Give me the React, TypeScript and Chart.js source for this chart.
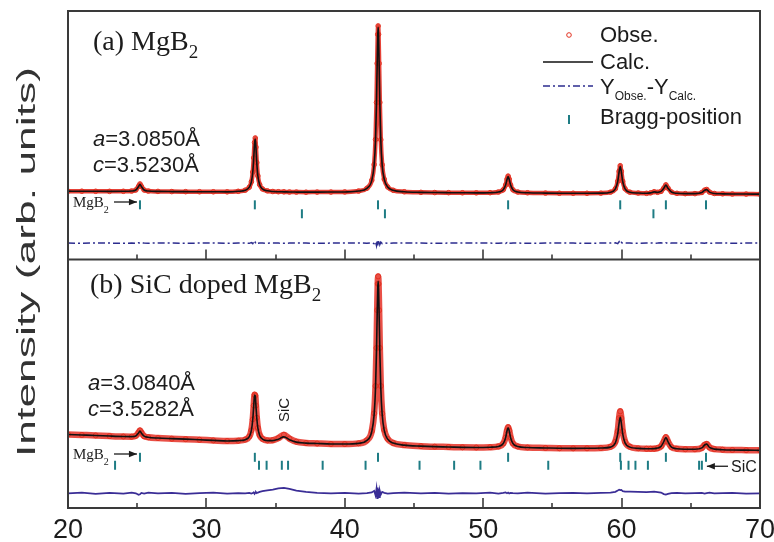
import React, { useEffect, useRef } from 'react';
import { Chart, registerables } from 'chart.js';

Chart.register(...registerables);

// 2θ grid (degrees) shared by all profile series
const twoTheta = [
  20, 21, 22, 23, 24, 24.6, 24.9, 25.1, 25.2, 25.3,
  25.5, 25.8, 26.5, 27.5, 28.5, 29.5, 30.5, 31.5, 32.3, 32.8,
  33.1, 33.25, 33.35, 33.42, 33.48, 33.53, 33.58, 33.64, 33.72, 33.85,
  34.05, 34.4, 34.8, 35.2, 35.6, 36.0, 36.5, 37.2, 38, 39,
  40, 41, 41.6, 41.95, 42.12, 42.22, 42.29, 42.34, 42.38, 42.41,
  42.44, 42.48, 42.53, 42.6, 42.7, 42.85, 43.1, 43.5, 44.3, 45.5,
  46.5, 47.5, 48.5, 49.5, 50.5, 51.1, 51.45, 51.62, 51.72, 51.8,
  51.88, 51.98, 52.15, 52.5, 53.2, 54.5, 55.5, 56.5, 57.5, 58.5,
  59.2, 59.55, 59.72, 59.82, 59.9, 59.98, 60.08, 60.25, 60.6, 61.2,
  61.8, 62.1, 62.35, 62.6, 62.85, 63.05, 63.2, 63.35, 63.6, 64.0,
  64.6, 65.3, 65.8, 66.0, 66.15, 66.35, 66.7, 67.3, 68, 69, 70,
];

// (a) MgB2 — observed, calculated, difference
const obsA = [
  27.5, 27.48, 27.45, 27.42, 27.45, 27.56, 27.98, 29.46, 30.4, 29.46,
  27.98, 27.55, 27.4, 27.33, 27.3, 27.27, 27.25, 27.22, 27.44, 27.89,
  29.11, 31.3, 35.2, 40.9, 47.1, 48.9, 45.2, 39.0, 33.65, 30.1,
  28.4, 27.63, 27.36, 27.27, 27.22, 27.16, 27.13, 27.1, 27.13, 27.14,
  27.19, 27.54, 28.67, 31.9, 38.2, 48.3, 63.2, 78.9, 90.6, 94.0,
  90.6, 78.9, 63.2, 48.2, 38.1, 32.3, 29.2, 27.85, 27.25, 27.02,
  26.94, 26.89, 26.85, 26.82, 26.89, 27.15, 28.06, 29.97, 32.33, 33.56,
  32.33, 29.97, 28.05, 27.14, 26.85, 26.72, 26.67, 26.66, 26.65, 26.71,
  27.11, 28.47, 31.48, 35.5, 37.74, 35.5, 31.47, 28.46, 27.09, 26.74,
  26.64, 26.83, 27.26, 27.05, 27.42, 28.75, 30.05, 28.75, 27.16, 26.64,
  26.5, 26.51, 26.97, 27.91, 28.18, 27.13, 26.57, 26.42, 26.36, 26.33, 26.3,
];
const calcA = [
  27.5, 27.47, 27.45, 27.43, 27.46, 27.56, 27.96, 29.4, 30.3, 29.4,
  27.96, 27.55, 27.4, 27.33, 27.3, 27.27, 27.25, 27.22, 27.44, 27.88,
  29.1, 31.25, 35.1, 40.8, 46.8, 48.5, 45.0, 38.9, 33.6, 30.1,
  28.4, 27.63, 27.36, 27.27, 27.22, 27.16, 27.13, 27.1, 27.13, 27.14,
  27.19, 27.54, 28.65, 31.85, 38.1, 48.1, 63.0, 78.6, 90.2, 93.4,
  90.2, 78.6, 63.0, 48.1, 38.0, 32.3, 29.2, 27.85, 27.25, 27.02,
  26.94, 26.89, 26.85, 26.82, 26.89, 27.15, 28.05, 29.95, 32.2, 33.35,
  32.2, 29.95, 28.05, 27.14, 26.85, 26.72, 26.67, 26.66, 26.65, 26.71,
  27.1, 28.45, 31.4, 35.3, 37.4, 35.3, 31.4, 28.45, 27.09, 26.74,
  26.64, 26.8, 27.2, 27.02, 27.4, 28.7, 29.95, 28.7, 27.15, 26.64,
  26.5, 26.51, 26.95, 27.85, 28.1, 27.1, 26.57, 26.42, 26.36, 26.33, 26.3,
];
const diffA = [
  6.6, 6.55, 6.65, 6.6, 6.55, 6.6, 6.5, 6.75, 6.5, 6.7,
  6.6, 6.55, 6.65, 6.6, 6.55, 6.6, 6.65, 6.55, 6.6, 6.6,
  6.5, 6.8, 6.4, 7.0, 6.3, 6.9, 6.4, 6.8, 6.5, 6.6,
  6.6, 6.55, 6.65, 6.6, 6.55, 6.6, 6.65, 6.6, 6.55, 6.6,
  6.6, 6.65, 6.55, 6.7, 6.4, 7.2, 5.6, 7.8, 5.4, 7.4,
  5.8, 7.6, 6.0, 7.0, 6.4, 6.7, 6.55, 6.6, 6.65, 6.6,
  6.55, 6.6, 6.65, 6.6, 6.6, 6.55, 6.7, 6.5, 6.8, 6.4,
  6.75, 6.5, 6.65, 6.6, 6.55, 6.6, 6.65, 6.6, 6.55, 6.6,
  6.6, 6.7, 6.4, 7.2, 6.3, 6.9, 6.5, 6.65, 6.6, 6.55,
  6.6, 6.65, 6.55, 6.6, 6.7, 6.5, 6.75, 6.45, 6.6, 6.6,
  6.55, 6.6, 6.65, 6.55, 6.7, 6.5, 6.6, 6.65, 6.55, 6.6, 6.6,
];

// (b) SiC doped MgB2 — observed, calculated, difference
const obsB = [
  29.6, 29.4, 29.2, 28.95, 28.75, 28.72, 29.06, 30.39, 31.22, 30.34,
  28.91, 28.47, 28.14, 27.9, 27.7, 27.45, 27.2, 26.95, 27.1, 27.51,
  28.79, 31.29, 35.68, 41.2, 45.6, 45.16, 41.21, 36.32, 32.24, 29.31,
  27.83, 27.21, 27.29, 28.12, 29.44, 27.95, 26.68, 26.17, 25.98, 25.77,
  25.73, 26.02, 27.25, 30.96, 38.1, 49.1, 64.4, 79.6, 90.2, 93.2,
  90.2, 79.6, 64.4, 49.1, 38.1, 31.4, 27.79, 26.15, 25.32, 24.89,
  24.68, 24.55, 24.4, 24.35, 24.46, 24.76, 25.98, 28.38, 31.14, 32.5,
  31.14, 28.38, 25.98, 24.76, 24.33, 24.17, 24.05, 24.0, 24.03, 24.12,
  24.64, 26.68, 30.92, 36.2, 38.9, 36.2, 30.92, 26.68, 24.64, 24.0,
  23.84, 23.86, 23.88, 24.11, 24.83, 26.76, 28.52, 26.76, 24.53, 23.84,
  23.65, 23.63, 24.2, 25.41, 25.76, 24.41, 23.7, 23.47, 23.35, 23.28, 23.2,
];
const calcB = [
  29.6, 29.4, 29.2, 28.95, 28.75, 28.72, 29.0, 30.2, 31.0, 30.2,
  28.9, 28.47, 28.14, 27.9, 27.7, 27.45, 27.2, 26.95, 27.1, 27.5,
  28.75, 31.2, 35.6, 41.1, 45.5, 45.1, 41.1, 36.2, 32.1, 29.2,
  27.75, 27.1, 27.1, 27.67, 28.64, 27.5, 26.52, 26.1, 25.95, 25.77,
  25.73, 26.02, 27.2, 30.8, 37.7, 48.4, 63.2, 78.0, 88.3, 91.2,
  88.3, 78.0, 63.2, 48.4, 37.7, 31.2, 27.7, 26.12, 25.3, 24.89,
  24.68, 24.55, 24.4, 24.35, 24.46, 24.75, 25.95, 28.3, 31.0, 32.3,
  31.0, 28.3, 25.95, 24.75, 24.33, 24.17, 24.05, 24.0, 24.03, 24.12,
  24.5, 26.22, 29.8, 34.2, 36.5, 34.2, 29.8, 26.22, 24.5, 23.98,
  23.84, 23.86, 23.88, 24.1, 24.8, 26.7, 28.4, 26.7, 24.5, 23.84,
  23.65, 23.63, 24.18, 25.35, 25.7, 24.4, 23.7, 23.47, 23.35, 23.28, 23.2,
];
const diffB = [
  5.9, 6.2, 5.7, 6.1, 5.8, 6.2, 5.9, 5.3, 5.5, 6.1,
  5.8, 6.2, 5.9, 6.1, 5.7, 6.0, 6.2, 5.8, 6.0, 5.9,
  6.1, 5.8, 6.0, 6.3, 5.7, 6.1, 6.4, 6.0, 6.2, 6.5,
  6.8, 7.1, 7.4, 7.9, 8.1, 7.7, 7.0, 6.5, 6.1, 5.9,
  6.1, 5.8, 6.0, 6.3, 6.9, 5.1, 7.8, 4.0, 8.2, 5.2,
  7.6, 4.4, 6.9, 5.4, 6.5, 6.1, 5.8, 6.0, 6.2, 5.9,
  6.1, 5.8, 6.0, 5.9, 6.2, 5.8, 6.1, 6.3, 5.9, 6.2,
  5.8, 6.1, 6.0, 5.9, 6.2, 5.8, 6.0, 6.1, 5.9, 6.1,
  6.2, 6.5, 7.0, 7.4, 7.2, 7.3, 6.8, 6.6, 6.6, 6.5,
  6.4, 6.5, 6.6, 6.4, 6.2, 5.6, 5.4, 5.7, 6.0, 6.1,
  5.9, 6.0, 6.1, 5.8, 6.0, 6.2, 5.9, 6.0, 6.1, 5.8, 5.9,
];

// Bragg reflection positions (2θ)
const braggMgB2 = [25.2, 33.5, 42.4, 51.8, 59.9, 63.2, 66.1];
const braggMgO = [36.9, 42.9, 62.3];
const braggSiC = [23.4, 33.8, 34.35, 35.45, 35.9, 38.4, 41.5, 45.4, 47.9, 49.8, 54.7, 59.95, 60.5, 61.0, 61.9, 65.6, 65.8];

// axis ticks
const xMajorTicks = [20, 30, 40, 50, 60, 70];
const xMinorTicks = [25, 35, 45, 55, 65];

// vertical stacking of the two panels on one intensity scale
const PANEL_A_OFFSET = 100;
const ROW_A_MGB2 = 122;
const ROW_A_MGO = 118.4;
const ROW_B_MGB2 = 20.4;
const ROW_B_SIC = 17.2;

const RED = '#e2301f';
const TEAL = '#1e7c84';
const NAVY_A = '#2c2c8e';
const NAVY_B = '#3a2d96';
const SANS = '"Liberation Sans", Arial, sans-serif';
const SERIF = '"Liberation Serif", "Times New Roman", serif';

const profile = (ys: number[], off = 0) => twoTheta.map((x, i) => ({ x, y: ys[i] + off }));
const tickRow = (xs: number[], level: number) => xs.map((x) => ({ x, y: level }));

function rich(ctx: CanvasRenderingContext2D, x: number, y: number, parts: { t: string; font: string; dy?: number }[]) {
  let cx = x;
  for (const p of parts) {
    ctx.font = p.font;
    ctx.fillText(p.t, cx, y + (p.dy || 0));
    cx += ctx.measureText(p.t).width;
  }
  return cx;
}

function arrow(ctx: CanvasRenderingContext2D, x1: number, y: number, x2: number) {
  ctx.beginPath();
  ctx.moveTo(x1, y);
  ctx.lineTo(x2, y);
  ctx.stroke();
  const d = Math.sign(x2 - x1);
  ctx.beginPath();
  ctx.moveTo(x2, y);
  ctx.lineTo(x2 - d * 8, y - 3.2);
  ctx.lineTo(x2 - d * 8, y + 3.2);
  ctx.closePath();
  ctx.fill();
}

const framePlugin = {
  id: 'frame',
  afterDatasetsDraw(chart: any) {
    const { ctx, chartArea: ca, scales } = chart;
    const xs = scales.x;
    const yDiv = scales.y.getPixelForValue(PANEL_A_OFFSET);
    ctx.save();
    ctx.strokeStyle = '#3a3a3a';
    ctx.lineWidth = 2;
    ctx.strokeRect(ca.left, ca.top, ca.right - ca.left, ca.bottom - ca.top);
    ctx.beginPath();
    ctx.moveTo(ca.left, yDiv);
    ctx.lineTo(ca.right, yDiv);
    ctx.stroke();
    ctx.lineWidth = 1.6;
    const drawTicks = (vals: number[], len: number) => {
      for (const v of vals) {
        const px = Math.round(xs.getPixelForValue(v));
        for (const base of [ca.bottom, yDiv]) {
          ctx.beginPath();
          ctx.moveTo(px, base);
          ctx.lineTo(px, base - len);
          ctx.stroke();
        }
      }
    };
    drawTicks(xMajorTicks, 10);
    drawTicks(xMinorTicks, 5);
    ctx.restore();
  },
};

const textPlugin = {
  id: 'texts',
  afterDraw(chart: any) {
    const { ctx, scales } = chart;
    const xs = scales.x;
    const ys = scales.y;
    ctx.save();
    ctx.fillStyle = '#1c1c1c';
    ctx.strokeStyle = '#1c1c1c';
    ctx.textBaseline = 'alphabetic';
    ctx.textAlign = 'left';

    // panel titles
    rich(ctx, 93, 50, [
      { t: '(a) MgB', font: `28px ${SERIF}` },
      { t: '2', font: `19px ${SERIF}`, dy: 8 },
    ]);
    rich(ctx, 90, 293, [
      { t: '(b) SiC doped MgB', font: `28px ${SERIF}` },
      { t: '2', font: `19px ${SERIF}`, dy: 8 },
    ]);

    // lattice parameters
    const lp = (x: number, y: number, sym: string, val: string) =>
      rich(ctx, x, y, [
        { t: sym, font: `italic 22px ${SANS}` },
        { t: val, font: `22px ${SANS}` },
      ]);
    lp(93, 146, 'a', '=3.0850Å');
    lp(93, 172, 'c', '=3.5230Å');
    lp(88, 390, 'a', '=3.0840Å');
    lp(88, 416, 'c', '=3.5282Å');

    // phase labels with arrows
    ctx.lineWidth = 1.3;
    const mgb2Label = (y: number) => {
      rich(ctx, 73, y, [
        { t: 'MgB', font: `15px ${SERIF}` },
        { t: '2', font: `10px ${SERIF}`, dy: 6 },
      ]);
      arrow(ctx, 114, y - 5, xs.getPixelForValue(braggMgB2[0]) - 3);
    };
    mgb2Label(207);
    mgb2Label(459);

    const yMgO = ys.getPixelForValue(ROW_A_MGO + PANEL_A_OFFSET);
    arrow(ctx, xs.getPixelForValue(braggMgB2[6]) - 4, yMgO, xs.getPixelForValue(braggMgO[2]) + 6);
    ctx.font = `17px ${SANS}`;
    ctx.fillText('MgO', 712, yMgO + 6);

    const ySiC = ys.getPixelForValue(ROW_B_SIC) + 1;
    arrow(ctx, 728, ySiC, xs.getPixelForValue(braggSiC[braggSiC.length - 1]) + 5);
    ctx.font = `16px ${SANS}`;
    ctx.fillText('SiC', 731, ySiC + 6);

    // rotated SiC label over the broad SiC hump
    ctx.save();
    ctx.translate(xs.getPixelForValue(35.55) + 1.5, 410);
    ctx.rotate(-Math.PI / 2);
    ctx.font = `15px ${SANS}`;
    ctx.textAlign = 'center';
    ctx.textBaseline = 'middle';
    ctx.fillText('SiC', 0, 0);
    ctx.restore();

    // legend
    const lx = 600;
    ctx.font = `22px ${SANS}`;
    ctx.beginPath();
    ctx.arc(569, 35, 2.3, 0, Math.PI * 2);
    ctx.strokeStyle = RED;
    ctx.lineWidth = 1;
    ctx.stroke();
    ctx.fillText('Obse.', lx, 42);

    ctx.strokeStyle = '#111';
    ctx.lineWidth = 1.6;
    ctx.beginPath();
    ctx.moveTo(543, 62);
    ctx.lineTo(593, 62);
    ctx.stroke();
    ctx.fillText('Calc.', lx, 69);

    ctx.strokeStyle = NAVY_A;
    ctx.lineWidth = 1.6;
    ctx.setLineDash([7, 3, 2, 3]);
    ctx.beginPath();
    ctx.moveTo(543, 86);
    ctx.lineTo(593, 86);
    ctx.stroke();
    ctx.setLineDash([]);
    rich(ctx, lx, 94, [
      { t: 'Y', font: `22px ${SANS}` },
      { t: 'Obse.', font: `12px ${SANS}`, dy: 6 },
      { t: '-Y', font: `22px ${SANS}` },
      { t: 'Calc.', font: `12px ${SANS}`, dy: 6 },
    ]);

    ctx.strokeStyle = TEAL;
    ctx.lineWidth = 2;
    ctx.beginPath();
    ctx.moveTo(569, 115);
    ctx.lineTo(569, 124);
    ctx.stroke();
    ctx.font = `22px ${SANS}`;
    ctx.fillText('Bragg-position', lx, 124);

    // y-axis title (narrow, tall lettering)
    const title = 'Intensity (arb. units)';
    ctx.font = `26px ${SANS}`;
    const w = ctx.measureText(title).width;
    ctx.save();
    ctx.translate(28, 262);
    ctx.rotate(-Math.PI / 2);
    ctx.scale(390 / w, 1);
    ctx.fillStyle = '#333';
    ctx.textAlign = 'center';
    ctx.textBaseline = 'middle';
    ctx.fillText(title, 0, 0);
    ctx.restore();

    ctx.restore();
  },
};

export default function App() {
  const ref = useRef<HTMLCanvasElement>(null);

  useEffect(() => {
    if (!ref.current) return;
    const braggStyle = {
      type: 'scatter' as const,
      showLine: false,
      pointStyle: 'line' as const,
      pointRotation: 90,
      pointRadius: 4.5,
      pointHoverRadius: 4.5,
      pointBorderWidth: 2,
      pointBorderColor: TEAL,
      borderColor: TEAL,
      backgroundColor: TEAL,
      order: 3,
    };
    const chart = new Chart(ref.current, {
      type: 'line',
      data: {
        datasets: [
          { label: 'Calc. (a)', data: profile(calcA, PANEL_A_OFFSET), borderColor: '#111', borderWidth: 1.6, pointRadius: 0, cubicInterpolationMode: 'monotone', order: 0 },
          { label: 'Calc. (b)', data: profile(calcB), borderColor: '#111', borderWidth: 1.6, pointRadius: 0, cubicInterpolationMode: 'monotone', order: 0 },
          {
            label: 'Obse. (a)', data: profile(obsA, PANEL_A_OFFSET), borderColor: 'rgba(226,40,28,0.88)', borderWidth: 4.5,
            pointRadius: 2.3, pointBorderWidth: 1, pointBorderColor: RED, pointBackgroundColor: 'rgba(0,0,0,0)',
            cubicInterpolationMode: 'monotone', order: 1,
          },
          {
            label: 'Obse. (b)', data: profile(obsB), borderColor: 'rgba(228,42,30,0.82)', borderWidth: 6.5,
            pointRadius: 2.5, pointBorderWidth: 1, pointBorderColor: RED, pointBackgroundColor: 'rgba(0,0,0,0)',
            cubicInterpolationMode: 'monotone', order: 1,
          },
          { label: 'Yobs-Ycalc (a)', data: profile(diffA, PANEL_A_OFFSET), borderColor: NAVY_A, borderWidth: 1.5, borderDash: [7, 3, 2, 3], pointRadius: 0, order: 2 },
          { label: 'Yobs-Ycalc (b)', data: profile(diffB), borderColor: NAVY_B, borderWidth: 1.7, pointRadius: 0, order: 2 },
          { label: 'Bragg MgB2 (a)', data: tickRow(braggMgB2, ROW_A_MGB2), ...braggStyle },
          { label: 'Bragg MgO (a)', data: tickRow(braggMgO, ROW_A_MGO), ...braggStyle },
          { label: 'Bragg MgB2 (b)', data: tickRow(braggMgB2, ROW_B_MGB2), ...braggStyle },
          { label: 'Bragg SiC (b)', data: tickRow(braggSiC, ROW_B_SIC), ...braggStyle },
        ] as any,
      },
      options: {
        responsive: false,
        animation: false,
        events: [],
        devicePixelRatio: 1,
        layout: { padding: { left: 68, right: 14, top: 11, bottom: 0 } },
        plugins: { legend: { display: false }, tooltip: { enabled: false } },
        scales: {
          x: {
            type: 'linear',
            min: 20,
            max: 70,
            grid: { display: false, drawTicks: false },
            border: { display: false },
            ticks: {
              stepSize: 10,
              autoSkip: false,
              maxRotation: 0,
              padding: 6,
              color: '#1c1c1c',
              font: { family: SANS, size: 27 },
            },
            afterFit(scale: any) {
              scale.height = 34;
              scale.paddingLeft = 0;
              scale.paddingRight = 0;
            },
          },
          y: { type: 'linear', min: 0, max: 200, display: false },
        },
      } as any,
      plugins: [framePlugin, textPlugin],
    });
    return () => chart.destroy();
  }, []);

  return (
    <div style={{ position: 'fixed', left: 0, top: 0, width: 774, height: 542, background: '#fff' }}>
      <canvas ref={ref} width={774} height={542} style={{ display: 'block' }} />
    </div>
  );
}
